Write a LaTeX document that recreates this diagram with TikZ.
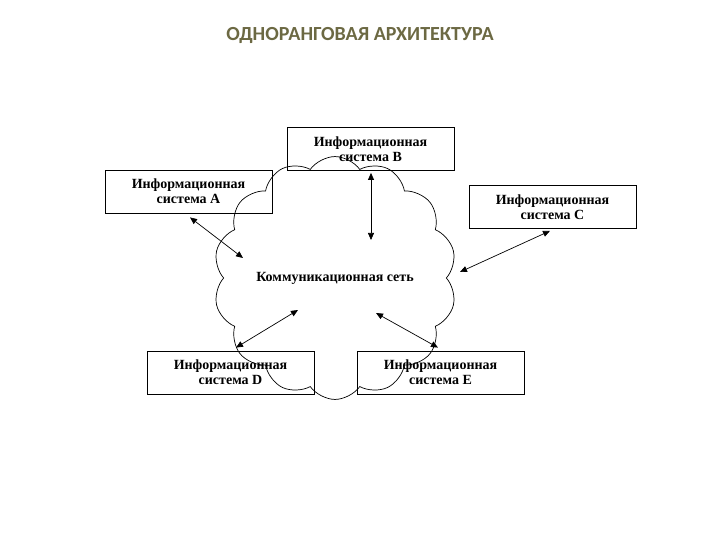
\documentclass[tikz,border=0pt]{standalone}
\usepackage{fontspec}
\setmainfont{Liberation Serif}
\newfontfamily\titlefont{Carlito}
\usetikzlibrary{shapes.symbols,arrows.meta}
\begin{document}
\begin{tikzpicture}[x=1pt,y=-1pt,
  sysbox/.style={draw,line width=0.8pt,minimum width=167pt,minimum height=43pt,align=center,font=\bfseries\fontsize{14}{15}\selectfont,inner sep=0pt},
  link/.style={line width=0.7pt,{Triangle[length=7pt,width=6pt]}-{Triangle[length=7pt,width=6pt]}}]
\useasboundingbox (0,0) rectangle (720,540);
\node[font=\titlefont\bfseries\fontsize{20}{22}\selectfont,text=black!45!olive!70!gray] (t) at (360,35) {ОДНОРАНГОВАЯ АРХИТЕКТУРА};
\node[sysbox] (B) at (370.5,149) {Информационная\\система B};
\node[sysbox] (A) at (188.5,191.5) {Информационная\\система A};
\node[sysbox] (C) at (552.5,207) {Информационная\\система C};
\node[sysbox] (D) at (230.5,372.5) {Информационная\\система D};
\node[sysbox] (E) at (440.5,372.5) {Информационная\\система E};
\node[cloud,draw,line width=0.7pt,cloud puffs=14,cloud puff arc=110,minimum width=240pt,minimum height=80pt,inner sep=0pt,font=\bfseries\fontsize{14}{15}\selectfont] (N) at (335,278) {Коммуникационная сеть};
\coordinate (nA) at (243,258);
\coordinate (nB) at (371,240);
\coordinate (nC) at (460,272);
\coordinate (nD) at (298,310);
\coordinate (nE) at (376,313);
\draw[link] (A.south) ++(1.5,4) coordinate (a1) (a1) -- (nA);
\draw[link] (B.south) ++(0.5,2) coordinate (b1) (b1) -- (nB);
\draw[link] (C.south) ++(-2.5,2) coordinate (c1) (c1) -- (nC);
\draw[link] (D.north) ++(5.5,-3) coordinate (d1) (d1) -- (nD);
\draw[link] (E.north) ++(-2.5,-3) coordinate (e1) (e1) -- (nE);
\end{tikzpicture}
\end{document}
